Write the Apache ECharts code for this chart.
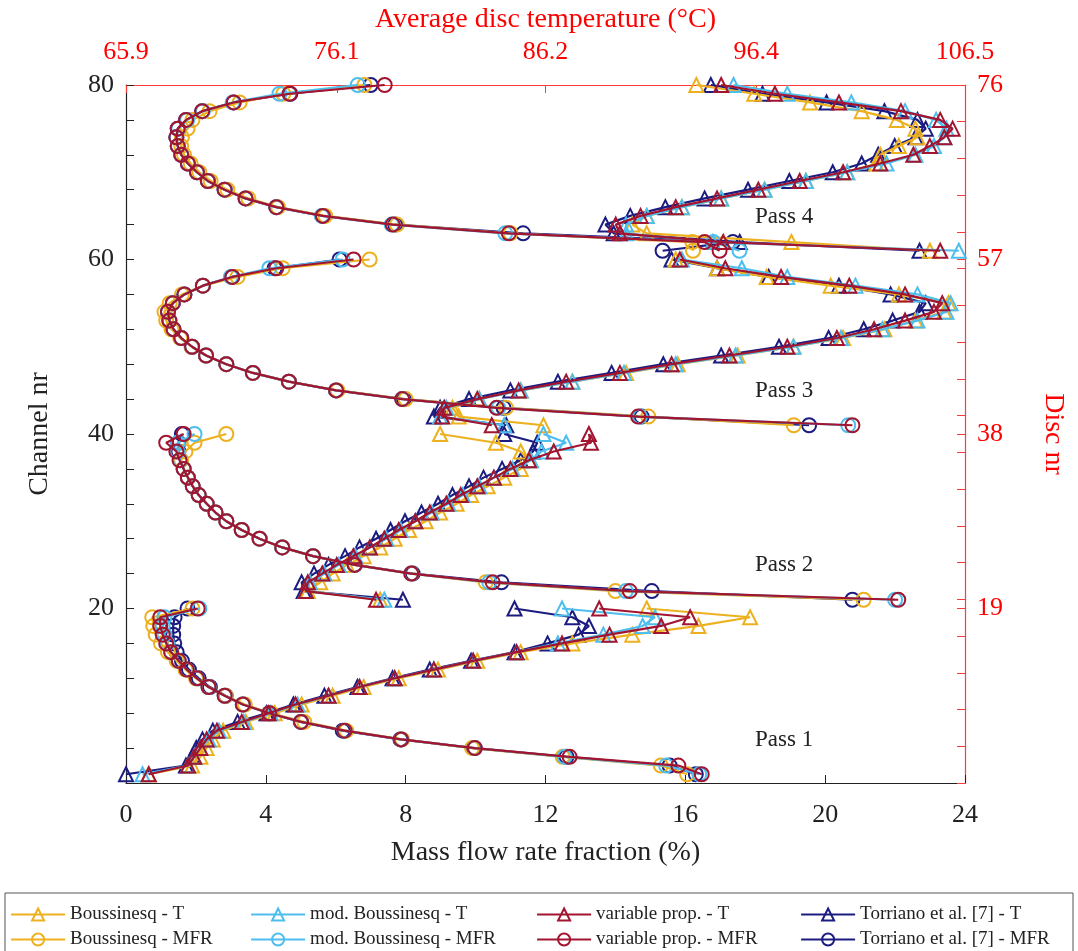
<!DOCTYPE html>
<html>
<head>
<meta charset="utf-8">
<script src="https://cdn.jsdelivr.net/npm/echarts@6/dist/echarts.min.js"></script>
<style>
html,body{margin:0;padding:0;background:#fff;}
#chart{width:1078px;height:951px;}
</style>
</head>
<body>
<div id="chart"></div>
<script>
// ---------- DATA ----------
const channels = [1,2,3,4,5,6,7,8,9,10,11,12,13,14,15,16,17,18,19,20,
  21,22,23,24,25,26,27,28,29,30,31,32,33,34,35,36,37,38,39,40,
  41,42,43,44,45,46,47,48,49,50,51,52,53,54,55,56,57,58,59,60,
  61,62,63,64,65,66,67,68,69,70,71,72,73,74,75,76,77,78,79,80];
// last channel of each pass (lines are drawn per pass)
const passEnds = [20, 40, 60];

// Average disc temperature (°C) per channel
const tBoussinesq = [67.0,69.1,69.5,69.8,70.1,70.6,71.7,73.1,74.4,75.9,77.4,79.1,81.0,82.9,85.0,87.5,90.4,93.6,96.1,91.1,
  78.2,74.7,75.3,75.9,76.6,77.4,78.2,78.9,79.6,80.4,81.1,81.9,82.6,83.4,84.2,85.0,85.4,85.0,83.8,81.1,
  86.1,82.0,81.7,83.0,85.0,87.5,90.1,92.6,95.5,98.2,100.6,102.6,104.1,105.5,105.7,103.3,100.0,96.9,94.5,92.5,
  104.8,98.1,91.1,90.4,91.1,92.8,94.7,96.8,98.8,100.8,102.2,102.4,103.3,104.2,104.1,103.2,101.5,99.0,96.3,93.5];
const tModBoussinesq = [66.7,68.9,69.2,69.5,69.9,70.4,71.6,72.9,74.2,75.7,77.2,78.9,80.8,82.7,84.8,86.8,89.0,90.9,91.5,87.0,
  78.4,74.6,74.8,75.5,76.2,77.0,77.7,78.5,79.2,79.9,80.7,81.5,82.2,83.0,83.7,84.6,85.5,86.0,87.2,86.1,
  84.2,81.1,81.4,83.0,85.0,87.5,90.0,92.5,95.4,98.2,100.5,102.5,104.2,105.6,105.8,104.2,101.2,97.9,95.7,92.8,
  106.2,94.3,90.1,90.1,91.1,92.8,94.7,96.8,98.8,100.8,102.7,104.1,105.0,105.5,105.6,105.1,103.6,101.0,97.9,95.3];
const tVariableProp = [67.0,68.9,69.2,69.5,69.8,70.3,71.5,72.8,74.1,75.7,77.2,78.9,80.8,82.7,84.8,87.0,89.3,91.8,93.2,88.8,
  78.0,74.6,74.7,75.4,76.1,76.9,77.7,78.4,79.1,79.9,80.6,81.4,82.1,82.9,83.7,84.5,85.4,86.6,88.4,88.3,
  83.6,81.2,81.3,82.9,84.9,87.2,89.8,92.3,95.1,97.9,100.3,102.1,103.6,105.0,105.4,103.6,100.9,97.6,94.9,92.7,
  105.3,94.8,89.8,89.6,90.8,92.5,94.5,96.5,98.5,100.6,102.4,104.0,104.8,105.5,105.9,105.3,103.4,100.4,97.3,94.7];
const tTorriano = [65.9,68.8,69.1,69.3,69.6,70.1,71.3,72.7,74.0,75.5,77.1,78.8,80.6,82.6,84.7,86.3,87.8,88.3,87.5,84.7,
  79.3,74.5,74.4,75.0,75.7,76.5,77.2,78.0,78.7,79.4,80.2,81.0,81.7,82.5,83.2,84.1,85.0,85.6,85.8,84.2,
  84.3,80.8,81.1,82.5,84.5,86.8,89.4,91.9,94.7,97.5,99.9,101.6,103.0,104.3,104.6,102.9,100.4,97.0,94.5,92.3,
  104.3,95.6,89.5,89.1,90.3,92.0,93.9,96.0,98.0,100.1,101.5,102.3,103.1,104.1,104.6,104.2,102.6,99.8,96.7,94.2];

// Mass flow rate fraction (%) per channel
const mfrBoussinesq = [16.05,15.3,12.49,9.9,7.9,6.3,5.1,4.15,3.4,2.85,2.36,2.0,1.7,1.45,1.2,1.0,0.85,0.78,0.75,1.9,
  21.1,14.0,10.29,8.16,6.54,5.35,4.47,3.82,3.31,2.87,2.56,2.31,2.08,1.91,1.77,1.65,1.58,1.7,1.96,2.87,
  19.1,14.94,10.87,8.0,6.05,4.66,3.63,2.87,2.29,1.87,1.55,1.3,1.15,1.1,1.25,1.6,2.2,3.19,4.48,6.97,
  16.22,16.2,11.0,7.75,5.7,4.35,3.5,2.9,2.42,2.1,1.85,1.66,1.58,1.6,1.76,1.9,2.39,3.25,4.5,6.82];
const mfrModBoussinesq = [16.4,15.45,12.55,9.98,7.87,6.25,5.01,4.1,3.34,2.82,2.36,2.03,1.74,1.51,1.3,1.18,1.1,1.05,1.1,2.1,
  22.0,14.3,10.39,8.16,6.54,5.35,4.47,3.82,3.31,2.87,2.56,2.31,2.08,1.91,1.77,1.65,1.55,1.47,1.48,1.96,
  20.66,14.7,10.65,7.9,6.01,4.66,3.63,2.87,2.29,1.89,1.58,1.36,1.24,1.2,1.34,1.67,2.2,3.0,4.1,6.2,
  17.55,16.8,10.85,7.6,5.6,4.3,3.42,2.82,2.34,2.03,1.77,1.58,1.48,1.44,1.5,1.75,2.2,3.05,4.39,6.63];
const mfrVariableProp = [16.47,15.8,12.69,9.98,7.87,6.25,5.01,4.1,3.34,2.82,2.36,2.03,1.74,1.51,1.29,1.15,1.05,0.98,0.98,2.05,
  22.09,14.41,10.49,8.16,6.54,5.35,4.47,3.82,3.31,2.87,2.56,2.31,2.08,1.91,1.77,1.65,1.53,1.44,1.15,1.65,
  20.78,14.65,10.6,7.9,6.01,4.66,3.63,2.87,2.29,1.89,1.58,1.36,1.24,1.2,1.34,1.67,2.2,3.04,4.3,6.51,
  16.98,16.55,10.95,7.63,5.63,4.3,3.42,2.82,2.34,2.03,1.77,1.58,1.48,1.44,1.48,1.72,2.18,3.08,4.68,7.4];
const mfrTorriano = [16.3,15.55,12.6,9.95,7.85,6.2,5.0,4.1,3.35,2.85,2.4,2.08,1.8,1.6,1.45,1.38,1.35,1.35,1.39,1.76,
  20.78,15.04,10.74,8.2,6.55,5.35,4.47,3.82,3.31,2.87,2.56,2.31,2.08,1.91,1.77,1.65,1.55,1.5,1.5,1.6,
  19.54,14.75,10.8,7.95,6.01,4.66,3.63,2.87,2.29,1.89,1.58,1.36,1.24,1.2,1.34,1.67,2.2,3.04,4.25,6.11,
  15.35,17.36,11.36,7.7,5.63,4.3,3.42,2.82,2.34,2.03,1.77,1.58,1.48,1.44,1.48,1.72,2.18,3.08,4.7,7.0];

// Tick labels
const tempTicks = [65.9, 76.1, 86.2, 96.4, 106.5];
const discTicks = [19, 38, 57, 76];
const discTickMarks = [0,4,8,12,16,19,20,24,28,32,36,38,40,44,48,52,56,57,60,64,68,72,76];
const passLabels = ['Pass 4', 'Pass 3', 'Pass 2', 'Pass 1'];

// ---------- STYLE ----------
const FONT = 'Liberation Serif';
const RED = '#ff0000';
const RED_LINE = '#ff3a3a';
const INK = '#222222';
const C_BOUS = '#EDB120';
const C_MOD = '#4DBEEE';
const C_VAR = '#A2142F';
const C_TOR = '#1C1C80';

// [x, channel] pairs, with a gap between passes
function pairs(xs) {
  const out = [];
  xs.forEach((v, i) => {
    out.push([v, channels[i]]);
    if (passEnds.indexOf(channels[i]) >= 0) out.push(['-', '-']);
  });
  return out;
}

function mkSeries(name, xs, color, sym, xIdx, z) {
  return {
    name: name, type: 'line', xAxisIndex: xIdx, yAxisIndex: 0,
    data: pairs(xs), symbol: sym, symbolSize: sym === 'triangle' ? 14 : 14,
    showSymbol: true, showAllSymbol: true, connectNulls: false, z: z,
    lineStyle: { color: color, width: 2.2 },
    itemStyle: { color: 'rgba(255,255,255,0)', borderColor: color, borderWidth: 2 },
    emphasis: { disabled: true }, animation: false
  };
}

const series = [
  mkSeries('Torriano et al. [7] - T', tTorriano, C_TOR, 'triangle', 1, 2),
  mkSeries('Boussinesq - T', tBoussinesq, C_BOUS, 'triangle', 1, 3),
  mkSeries('mod. Boussinesq - T', tModBoussinesq, C_MOD, 'triangle', 1, 4),
  mkSeries('variable prop. - T', tVariableProp, C_VAR, 'triangle', 1, 5),
  mkSeries('Torriano et al. [7] - MFR', mfrTorriano, C_TOR, 'circle', 0, 2),
  mkSeries('Boussinesq - MFR', mfrBoussinesq, C_BOUS, 'circle', 0, 3),
  mkSeries('mod. Boussinesq - MFR', mfrModBoussinesq, C_MOD, 'circle', 0, 4),
  mkSeries('variable prop. - MFR', mfrVariableProp, C_VAR, 'circle', 0, 5)
];

const legendLayout = [
  ['Boussinesq - T', 10, 905], ['mod. Boussinesq - T', 250, 905], ['variable prop. - T', 536, 905], ['Torriano et al. [7] - T', 800, 905],
  ['Boussinesq - MFR', 10, 930], ['mod. Boussinesq - MFR', 250, 930], ['variable prop. - MFR', 536, 930], ['Torriano et al. [7] - MFR', 800, 930]
];
const legends = legendLayout.map(l => ({
  data: [l[0]], left: l[1], top: l[2], padding: 0, itemGap: 0,
  itemWidth: 54, itemHeight: 15, selectedMode: false,
  lineStyle: { width: 2.2 },
  textStyle: { fontFamily: FONT, fontSize: 19, color: INK }
}));

const passY = [218, 392, 566, 741];
const graphics = passLabels.map((t, i) => ({
  type: 'text', left: 755, top: passY[i] - 13,
  style: { text: t, font: '23px "Liberation Serif"', fill: INK }
}));
graphics.push({
  type: 'rect', shape: { x: 5, y: 893, width: 1068, height: 80 },
  style: { fill: 'none', stroke: '#555', lineWidth: 1 }, silent: true
});

const chart = echarts.init(document.getElementById('chart'), null, { renderer: 'canvas' });
chart.setOption({
  backgroundColor: '#fff',
  animation: false,
  grid: { left: 126, top: 85, width: 839, height: 698, containLabel: false },
  legend: legends,
  graphic: graphics,
  xAxis: [
    {
      type: 'value', position: 'bottom', min: 0, max: 24, interval: 4,
      name: 'Mass flow rate fraction (%)', nameLocation: 'middle', nameGap: 56,
      nameTextStyle: { fontFamily: FONT, fontSize: 28, color: INK },
      axisLine: { show: true, onZero: false, lineStyle: { color: INK, width: 1.2 } },
      axisTick: { show: true, inside: true, length: 8, lineStyle: { color: INK } },
      axisLabel: { margin: 19, fontFamily: FONT, fontSize: 26, color: INK },
      splitLine: { show: false }
    },
    {
      type: 'value', position: 'top', min: 65.9, max: 106.5,
      name: 'Average disc temperature (°C)', nameLocation: 'middle', nameGap: 51,
      nameTextStyle: { fontFamily: FONT, fontSize: 28, color: RED },
      axisLine: { show: true, onZero: false, lineStyle: { color: RED_LINE, width: 1.2 } },
      axisTick: { show: true, inside: true, length: 8, customValues: tempTicks, lineStyle: { color: RED_LINE } },
      axisLabel: { customValues: tempTicks, margin: 20, fontFamily: FONT, fontSize: 26, color: RED,
        formatter: v => String(v) },
      splitLine: { show: false }
    }
  ],
  yAxis: [
    {
      type: 'value', position: 'left', min: 0, max: 80, interval: 4,
      name: 'Channel nr', nameLocation: 'middle', nameGap: 72, nameRotate: 90,
      nameTextStyle: { fontFamily: FONT, fontSize: 28, color: INK },
      axisLine: { show: true, onZero: false, lineStyle: { color: INK, width: 1.2 } },
      axisTick: { show: true, inside: true, length: 8, lineStyle: { color: INK } },
      axisLabel: { margin: 12, fontFamily: FONT, fontSize: 26, color: INK,
        formatter: v => (v > 0 && v % 20 === 0) ? String(v) : '' },
      splitLine: { show: false }
    },
    {
      type: 'value', position: 'right', min: 0, max: 76,
      name: 'Disc nr', nameLocation: 'middle', nameGap: 74, nameRotate: -90,
      nameTextStyle: { fontFamily: FONT, fontSize: 28, color: RED },
      axisLine: { show: true, onZero: false, lineStyle: { color: RED_LINE, width: 1.2 } },
      axisTick: { show: true, inside: true, length: 8, customValues: discTickMarks, lineStyle: { color: RED_LINE } },
      axisLabel: { customValues: discTicks, margin: 12, fontFamily: FONT, fontSize: 26, color: RED },
      splitLine: { show: false }
    }
  ],
  series: series
});
</script>
</body>
</html>
